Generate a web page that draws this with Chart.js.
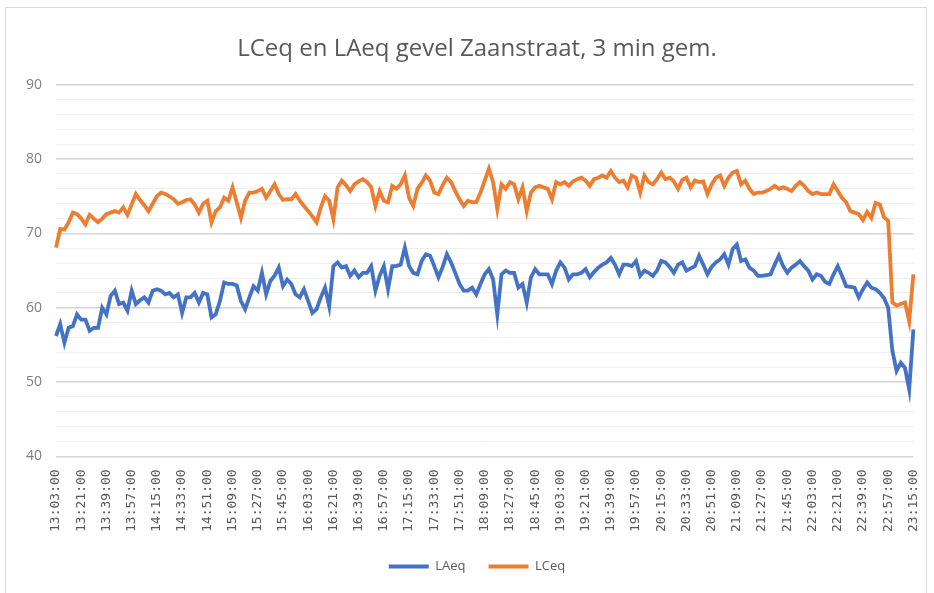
<!DOCTYPE html>
<html>
<head>
<meta charset="utf-8">
<script src="https://cdn.jsdelivr.net/npm/chart.js@4.4.1/dist/chart.umd.min.js"></script>
<style>
  body { margin: 0; background: #fff; }
  #wrap { position: relative; width: 934px; height: 593px; }
  #frame { position: absolute; left: 5px; top: 7px; width: 922px; height: 600px; border: 1px solid #d9d9d9; box-sizing: border-box; }
  canvas { position: absolute; left: 0; top: 0; }
</style>
</head>
<body>
<div id="wrap">
  <div id="frame"></div>
  <canvas id="chart" width="934" height="593"></canvas>
</div>
<script>
// meetreeks: 3-minuten gemiddelden van 13:03 tot 23:15
const startMinute = 13 * 60 + 3;
const stepMinutes = 3;
const pointCount = 205;

const tickLabels = [
  '13:03:00', '13:21:00', '13:39:00', '13:57:00', '14:15:00', '14:33:00', '14:51:00',
  '15:09:00', '15:27:00', '15:45:00', '16:03:00', '16:21:00', '16:39:00', '16:57:00',
  '17:15:00', '17:33:00', '17:51:00', '18:09:00', '18:27:00', '18:45:00', '19:03:00',
  '19:21:00', '19:39:00', '19:57:00', '20:15:00', '20:33:00', '20:51:00', '21:09:00',
  '21:27:00', '21:45:00', '22:03:00', '22:21:00', '22:39:00', '22:57:00', '23:15:00'
];

const laeq = [
  56.2, 57.8, 55.3, 57.3, 57.5, 59.1, 58.4, 58.4, 56.9, 57.3, 57.3, 60.0, 59.1, 61.6, 62.3, 60.5, 60.7, 59.6, 62.3, 60.5,
  61.0, 61.4, 60.7, 62.3, 62.5, 62.3, 61.8, 62.0, 61.4, 61.8, 59.3, 61.4, 61.4, 62.0, 60.7, 62.0, 61.8, 58.7, 59.1, 60.9,
  63.4, 63.2, 63.2, 63.0, 60.9, 59.8, 61.4, 62.9, 62.3, 64.7, 61.8, 63.6, 64.3, 65.4, 62.9, 63.8, 63.2, 61.8, 61.4, 62.5,
  60.9, 59.3, 59.8, 61.4, 62.7, 60.2, 65.6, 66.1, 65.4, 65.6, 64.3, 65.0, 64.1, 64.7, 64.7, 65.6, 62.3, 64.3, 65.6, 62.5,
  65.6, 65.6, 65.8, 68.1, 65.6, 64.7, 64.5, 66.3, 67.2, 67.0, 65.6, 64.1, 65.5, 67.2, 66.1, 64.7, 63.2, 62.3, 62.3, 62.7,
  61.8, 63.2, 64.5, 65.2, 63.8, 59.1, 64.5, 65.0, 64.7, 64.7, 62.7, 63.2, 60.7, 64.1, 65.2, 64.5, 64.5, 64.5, 63.2, 65.0,
  66.1, 65.4, 63.8, 64.5, 64.5, 64.7, 65.2, 64.1, 64.8, 65.4, 65.8, 66.1, 66.7, 65.8, 64.5, 65.8, 65.8, 65.6, 66.3, 64.3,
  65.0, 64.7, 64.3, 65.0, 66.3, 66.1, 65.5, 64.7, 65.8, 66.1, 65.0, 65.3, 65.6, 67.0, 65.8, 64.5, 65.5, 66.1, 66.5, 67.2,
  65.8, 67.9, 68.5, 66.3, 66.5, 65.4, 65.0, 64.3, 64.3, 64.4, 64.5, 65.8, 67.0, 65.6, 64.7, 65.4, 65.8, 66.3, 65.6, 65.0,
  63.8, 64.5, 64.3, 63.5, 63.2, 64.5, 65.6, 64.3, 62.9, 62.8, 62.7, 61.4, 62.5, 63.4, 62.7, 62.5, 62.0, 61.3, 60.0, 54.2,
  51.5, 52.6, 51.9, 49.0, 57.1
];

const lceq = [
  68.1, 70.6, 70.5, 71.5, 72.8, 72.6, 72.0, 71.2, 72.5, 72.0, 71.5, 72.0, 72.6, 72.8, 73.0, 72.8, 73.5, 72.5, 73.9, 75.3,
  74.5, 73.8, 73.0, 74.0, 75.0, 75.5, 75.3, 75.0, 74.6, 74.0, 74.2, 74.5, 74.6, 73.9, 72.8, 74.0, 74.4, 71.5, 73.0, 73.5,
  74.8, 74.4, 76.2, 74.2, 72.1, 74.4, 75.5, 75.5, 75.7, 76.0, 74.8, 75.7, 76.6, 75.3, 74.5, 74.6, 74.6, 75.3, 74.4, 73.7,
  73.0, 72.3, 71.5, 73.5, 75.0, 74.4, 71.9, 76.2, 77.1, 76.5, 75.7, 76.6, 77.0, 77.3, 76.9, 76.2, 73.7, 75.7, 74.4, 74.2,
  76.4, 76.0, 76.6, 77.8, 74.8, 73.7, 76.0, 76.8, 77.8, 77.1, 75.5, 75.3, 76.5, 77.5, 76.9, 75.7, 74.6, 73.7, 74.4, 74.2,
  74.2, 75.5, 77.1, 78.7, 76.9, 73.3, 76.6, 76.0, 76.9, 76.6, 74.6, 76.2, 73.0, 75.5, 76.2, 76.4, 76.2, 76.0, 74.6, 76.9,
  76.6, 76.9, 76.4, 77.0, 77.3, 77.5, 77.1, 76.4, 77.3, 77.5, 77.8, 77.5, 78.4, 77.5, 76.9, 77.1, 76.2, 77.8, 77.5, 75.5,
  77.8, 76.9, 76.6, 77.3, 78.2, 77.3, 77.5, 77.0, 76.0, 77.2, 77.5, 76.2, 77.1, 76.9, 77.0, 75.3, 76.6, 77.5, 77.8, 76.4,
  77.5, 78.2, 78.4, 76.6, 77.1, 76.0, 75.3, 75.5, 75.5, 75.7, 76.0, 76.4, 76.0, 76.2, 76.0, 75.7, 76.4, 76.9, 76.4, 75.7,
  75.3, 75.5, 75.3, 75.3, 75.3, 76.6, 75.7, 74.8, 74.2, 73.0, 72.8, 72.6, 71.8, 72.9, 72.1, 74.1, 73.9, 72.2, 71.7, 60.7,
  60.3, 60.5, 60.7, 58.2, 64.5
];

// tijdlabels per meetpunt
const categories = [];
for (let i = 0; i < pointCount; i++) {
  const m = startMinute + i * stepMinutes;
  const hh = String(Math.floor(m / 60)).padStart(2, '0');
  const mm = String(m % 60).padStart(2, '0');
  categories.push(hh + ':' + mm + ':00');
}

const ctx = document.getElementById('chart').getContext('2d');
new Chart(ctx, {
  type: 'line',
  data: {
    labels: categories,
    datasets: [
      {
        label: 'LAeq',
        data: laeq,
        borderColor: '#4472C4',
        backgroundColor: '#4472C4',
        borderWidth: 3.8,
        pointRadius: 0,
        tension: 0
      },
      {
        label: 'LCeq',
        data: lceq,
        borderColor: '#ED7D31',
        backgroundColor: '#ED7D31',
        borderWidth: 3.8,
        pointRadius: 0,
        tension: 0
      }
    ]
  },
  options: {
    responsive: false,
    animation: false,
    layout: { padding: { left: 12, right: -8, top: 35, bottom: 10 } },
    plugins: {
      title: {
        display: true,
        text: 'LCeq en LAeq gevel Zaanstraat, 3 min gem.',
        color: '#595959',
        font: { family: 'Open Sans', size: 24, weight: 'normal' },
        padding: { top: 0, bottom: 21 }
      },
      legend: {
        position: 'bottom',
        labels: {
          color: '#595959',
          font: { family: 'Open Sans', size: 13 },
          usePointStyle: true,
          pointStyle: 'line',
          pointStyleWidth: 40,
          boxHeight: 8,
          padding: 23
        }
      },
      tooltip: { enabled: false }
    },
    scales: {
      x: {
        grid: { display: false },
        border: { display: false },
        ticks: {
          autoSkip: false,
          minRotation: 90,
          maxRotation: 90,
          color: '#595959',
          font: { family: 'DejaVu Sans Mono', size: 13 },
          padding: 5,
          callback: function (val, idx) {
            return idx % 6 === 0 ? tickLabels[idx / 6] : '';
          }
        }
      },
      y: {
        min: 40,
        max: 90,
        border: { display: false },
        grid: {
          color: function (c) { return c.tick.value % 10 === 0 ? '#d4d4d4' : '#eeeeee'; },
          lineWidth: function (c) { return c.tick.value % 10 === 0 ? 1.6 : 1; },
          drawTicks: false
        },
        ticks: {
          stepSize: 2,
          autoSkip: false,
          color: '#7f7f7f',
          font: { family: 'Open Sans', size: 14 },
          padding: 14,
          callback: function (v) { return v % 10 === 0 ? v : ''; }
        }
      }
    }
  }
});
</script>
</body>
</html>
